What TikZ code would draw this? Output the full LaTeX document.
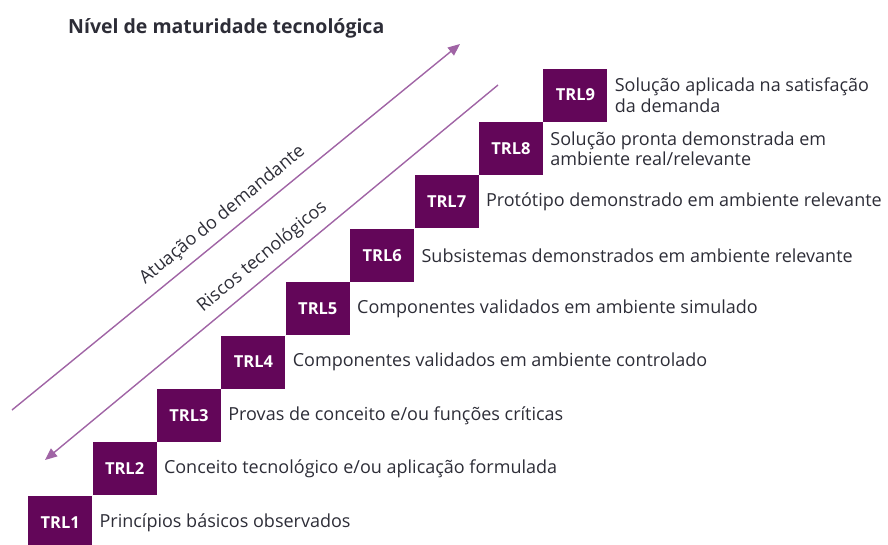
\documentclass[tikz,border=0pt]{standalone}
\usepackage{fontspec}
\setmainfont{Open Sans}
\usetikzlibrary{positioning,arrows.meta}
\definecolor{trlpurple}{RGB}{99,6,89}
\definecolor{setapurple}{RGB}{160,100,165}
\definecolor{textgray}{RGB}{45,45,55}

\begin{document}
\begin{tikzpicture}[x=1pt,y=1pt,
    trlbox/.style={fill=trlpurple, text=white, font=\fontsize{16.5}{19}\selectfont\bfseries,
      minimum width=64pt, minimum height=53pt, inner sep=0pt, anchor=south west},
    desc/.style={text=textgray, font=\fontsize{18}{20.5}\selectfont, align=left, inner sep=0pt},
    seta/.style={draw=setapurple, line width=1.4pt, -{Triangle[length=12pt,width=10pt]}},
    rotulo/.style={text=textgray, font=\fontsize{18}{20.5}\selectfont, inner sep=0pt, sloped, above=8pt}]
  \useasboundingbox (0,0) rectangle (888,-544);

  \node[font=\fontsize{19.5}{22}\selectfont\bfseries, text=textgray, inner sep=0pt, anchor=west] (titulo) at (68,-28)
    {Nível de maturidade tecnológica};

  % degraus
  \node[trlbox] (trl1) at (28,-549) {TRL1};
  \foreach \i [count=\j from 1] in {2,...,9}
    \node[trlbox] (trl\i) at (trl\j.north east) {TRL\i};

  % descricoes
  \node[desc, right=7pt of trl1] (d1) {Princípios básicos observados};
  \node[desc, right=7pt of trl2] (d2) {Conceito tecnológico e/ou aplicação formulada};
  \node[desc, right=7pt of trl3] (d3) {Provas de conceito e/ou funções críticas};
  \node[desc, right=7pt of trl4] (d4) {Componentes validados em ambiente controlado};
  \node[desc, right=7pt of trl5] (d5) {Componentes validados em ambiente simulado};
  \node[desc, right=7pt of trl6] (d6) {Subsistemas demonstrados em ambiente relevante};
  \node[desc, right=7pt of trl7] (d7) {Protótipo demonstrado em ambiente relevante};
  \node[desc, right=7pt of trl8] (d8) {Solução pronta demonstrada em\\ambiente real/relevante};
  \node[desc, right=7pt of trl9] (d9) {Solução aplicada na satisfação\\da demanda};

  % setas
  \coordinate (dem0) at (12,-410);
  \coordinate (dem1) at (460,-44);
  \draw[seta] (dem0) -- (dem1) node[rotulo, pos=0.495] (rdem) {Atuação do demandante};
  \coordinate (ris0) at (498,-85);
  \coordinate (ris1) at (45,-460);
  \draw[seta] (ris0) -- (ris1) node[rotulo, pos=0.495] (rris) {Riscos tecnológicos};
\end{tikzpicture}
\end{document}
